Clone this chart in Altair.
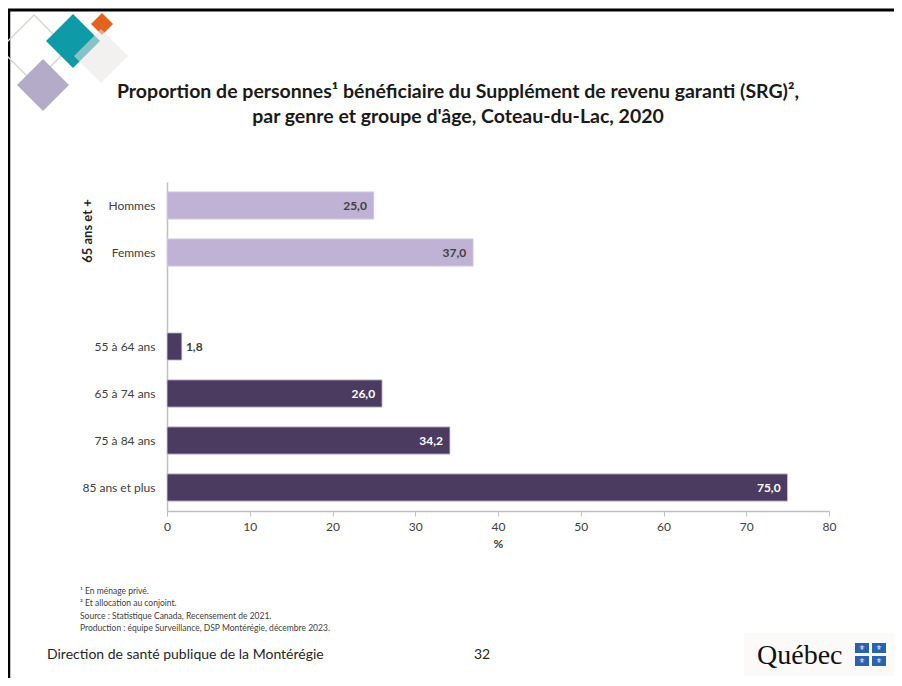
import altair as alt
import pandas as pd

# ---- data ----
categories = ["Hommes", "Femmes", "55 à 64 ans", "65 à 74 ans", "75 à 84 ans", "85 ans et plus"]
values = [25.0, 37.0, 1.8, 26.0, 34.2, 75.0]
groups = ["genre", "genre", "âge", "âge", "âge", "âge"]
y_domain = ["Hommes", "Femmes", " ", "55 à 64 ans", "65 à 74 ans", "75 à 84 ans", "85 ans et plus"]
x_ticks = [0, 10, 20, 30, 40, 50, 60, 70, 80]
labels = [f"{v:.1f}".replace(".", ",") for v in values]

title_lines = [
    "Proportion de personnes\u00b9 bénéficiaire du Supplément de revenu garanti (SRG)\u00b2,",
    "par genre et groupe d'âge, Coteau-du-Lac, 2020",
]
notes = [
    "\u00b9 En ménage privé.",
    "\u00b2 Et allocation au conjoint.",
    "Source : Statistique Canada, Recensement de 2021.",
    "Production : équipe Surveillance, DSP Montérégie, décembre 2023.",
]

df = pd.DataFrame({"cat": categories, "val": values, "grp": groups, "lab": labels})

FONT = "Lato"
W, H = 662, 329
PL, PT = 159, 174
CW, CH = 886, 670
OX, OY = 8 + PL, 8 + PT  # page position of plot origin

one = alt.Data(values=[{"k": 1}])


def P(px, py):
    return px - OX, py - OY


def txt(text, px, py, size, weight="normal", color="#404040", align="left",
        font=FONT, angle=0):
    x, y = P(px, py)
    return alt.Chart(one).mark_text(
        text=text, fontSize=size, fontWeight=weight, color=color, align=align,
        baseline="middle", font=font, angle=angle
    ).encode(x=alt.value(x), y=alt.value(y))


def diamond(px, py, half, color, opacity=1.0, filled=True, stroke=None):
    x, y = P(px, py)
    kw = dict(shape="diamond", size=(2 * half) ** 2, opacity=opacity, filled=filled)
    if filled:
        kw.update(fill=color, strokeWidth=0)
    else:
        kw.update(stroke=stroke or color, strokeWidth=1.5, fillOpacity=0)
    return alt.Chart(one).mark_point(**kw).encode(x=alt.value(x), y=alt.value(y))


def box(px1, py1, px2, py2, color):
    x1, y1 = P(px1, py1)
    x2, y2 = P(px2, py2)
    return alt.Chart(one).mark_rect(color=color).encode(
        x=alt.value(x1), x2=alt.value(x2), y=alt.value(y1), y2=alt.value(y2))


def hline(px1, px2, py, width, color="black"):
    x1, y = P(px1, py)
    x2, _ = P(px2, py)
    return alt.Chart(one).mark_rule(color=color, strokeWidth=width).encode(
        x=alt.value(x1), x2=alt.value(x2), y=alt.value(y))


def vline(px, py1, py2, width, color="black"):
    x, y1 = P(px, py1)
    _, y2 = P(px, py2)
    return alt.Chart(one).mark_rule(color=color, strokeWidth=width).encode(
        x=alt.value(x), y=alt.value(y1), y2=alt.value(y2))


# ---- chart ----
base = alt.Chart(df)

y_enc = alt.Y(
    "cat:N",
    scale=alt.Scale(domain=y_domain, paddingInner=0.42, paddingOuter=0.21),
    axis=alt.Axis(title=None, ticks=False, domainColor="#bfbfbf", domainWidth=1.5,
                  labelFont=FONT, labelFontSize=12, labelColor="#404040",
                  labelPadding=12),
)
x_enc = alt.X(
    "val:Q",
    scale=alt.Scale(domain=[0, 80], nice=False),
    axis=alt.Axis(values=x_ticks, title="%", titleFont=FONT, titleFontSize=12,
                  titleFontWeight="bold", titleColor="#404040", titlePadding=6,
                  labelFont=FONT, labelFontSize=12, labelColor="#404040",
                  labelPadding=5, labelFlush=False, grid=False,
                  domainColor="#bfbfbf", domainWidth=1.5,
                  tickColor="#bfbfbf", tickSize=5),
)

bars = base.mark_bar(stroke="#ddd6e6", strokeWidth=0.8).encode(
    x=x_enc, y=y_enc,
    color=alt.Color("grp:N", scale=alt.Scale(domain=["genre", "âge"],
                                             range=["#c0b2d4", "#4c3b61"]), legend=None),
)

inside = base.transform_filter(alt.datum.val > 5).mark_text(
    align="right", dx=-7, fontWeight="bold", fontSize=12, font=FONT, baseline="middle"
).encode(
    x="val:Q", y=alt.Y("cat:N", scale=alt.Scale(domain=y_domain)), text="lab:N",
    color=alt.condition(alt.datum.grp == "genre", alt.value("#404040"), alt.value("white")),
)
outside = base.transform_filter(alt.datum.val <= 5).mark_text(
    align="left", dx=4, fontWeight="bold", fontSize=12, font=FONT, baseline="middle",
    color="#404040"
).encode(x="val:Q", y=alt.Y("cat:N", scale=alt.Scale(domain=y_domain)), text="lab:N")

decor = [
    hline(8, 902, 10, 3),
    vline(9, 10, 686, 2.5),
    diamond(34, 49, 34, None, filled=False, stroke="#d3dacd"),
    diamond(43, 85, 26, "#b4abc8"),
    diamond(73, 41, 27, "#0e9aa7"),
    diamond(102, 24, 11, "#e5611e"),
    diamond(101, 56, 27, "#e9e5e2", opacity=0.55),
    txt(title_lines[0], 458, 92, 19.5, weight="bold", color="#1a1a1a", align="center"),
    txt(title_lines[1], 458, 117, 19.5, weight="bold", color="#1a1a1a", align="center"),
    txt("65 ans et +", 88, 231, 13, weight="bold", color="#1f1f1f", align="center", angle=270),
]
for i, n in enumerate(notes):
    decor.append(txt(n, 80, 591 + i * 12.3, 8.5, color="#404040"))
decor += [
    txt("Direction de santé publique de la Montérégie", 47, 655, 14, color="#262626"),
    txt("32", 474, 655, 14, color="#262626"),
    box(744, 633, 900, 676, "#fbfaf9"),
    txt("Québec", 757, 656, 28, color="#111111", font="Liberation Serif"),
    box(855, 643, 869, 653, "#2a62ad"),
    box(872, 643, 886, 653, "#2a62ad"),
    box(855, 656, 869, 666, "#2a62ad"),
    box(872, 656, 886, 666, "#2a62ad"),
]
for fx, fy in [(862, 648), (879, 648), (862, 661), (879, 661)]:
    decor.append(txt("\u269c", fx, fy, 7, color="white", align="center", font="DejaVu Sans"))

chart = alt.layer(bars, inside, outside, *decor).properties(
    width=W, height=H,
    autosize=alt.AutoSizeParams(type="none"),
    padding={"left": PL, "top": PT, "right": CW - PL - W, "bottom": CH - PT - H},
    background="white",
).configure_view(stroke=None)

chart.save("out.html", embed_options={"renderer": "svg", "actions": False})
